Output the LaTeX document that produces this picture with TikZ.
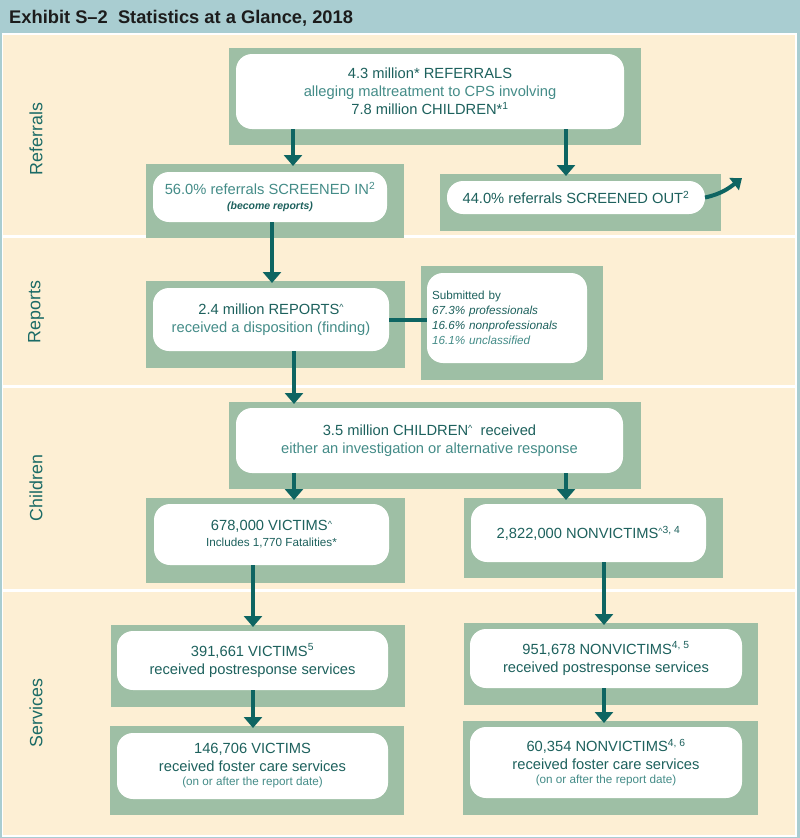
\documentclass[tikz,border=0pt]{standalone}
\usepackage{fontspec}
\setmainfont{Liberation Sans}
\usetikzlibrary{arrows.meta}
\definecolor{hdr}{HTML}{A9CDD1}
\definecolor{cream}{HTML}{FDEFD4}
\definecolor{boxg}{HTML}{9EBFA5}
\definecolor{tdark}{HTML}{1D615D}
\definecolor{tlight}{HTML}{448C88}
\definecolor{tsec}{HTML}{1B6B66}
\definecolor{arrc}{HTML}{0E6562}
\definecolor{ttl}{HTML}{1C1C1C}
\newcommand\mainsz{\fontsize{14.7}{18}\selectfont}
\newcommand\crt{\raisebox{3.5pt}{\fontsize{9}{9}\selectfont\textasciicircum}}
\begin{document}
\begin{tikzpicture}[x=1pt,y=-1pt,
  gbox/.style={fill=boxg, inner sep=0pt, outer sep=0pt},
  wbox/.style={fill=white, rounded corners=16pt, inner sep=0pt, outer sep=0pt, align=center, font=\mainsz, text=tdark},
  arr/.style={draw=arrc, line width=4.5pt, -{Triangle[width=18pt,length=11pt]}, shorten >=-2pt},
  sec/.style={rotate=90, font=\fontsize{17.8}{20}\selectfont, text=tsec},
  divider/.style={white, line width=3pt}]
\useasboundingbox (0,0) rectangle (800,838);
% background
\fill[hdr] (0,0) rectangle (800,838);
\fill[white] (2,33) rectangle (797,836.5);
\fill[cream] (3,35) rectangle (795,834.5);
\draw[divider] (3,236) -- (795,236);
\draw[divider] (3,386) -- (795,386);
\draw[divider] (3,590) -- (795,590);
% title
\node[anchor=base west, inner sep=0pt, font=\bfseries\fontsize{18.3}{20}\selectfont, text=ttl] (title) at (9,23) {Exhibit S–2\ \ Statistics at a Glance, 2018};
% section labels
\node[sec] (lref) at (36,139) {Referrals};
\node[sec] (lrep) at (36,312) {Reports};
\node[sec] (lchi) at (36,488) {Children};
\node[sec] (lser) at (36,713) {Services};
% column coordinates
\coordinate (cA) at (293,0);
\coordinate (cB) at (566,0);
\coordinate (cC) at (272,0);
\coordinate (cD) at (294,0);
\coordinate (cE) at (253,0);
\coordinate (cF) at (604,0);
% referrals
\node[gbox, minimum width=412pt, minimum height=97pt] (refG) at (435,96.5) {};
\node[wbox, minimum width=388pt, minimum height=75pt] (refW) at (430,91.5)
  {{\color{tdark}4.3 million* REFERRALS}\\{\color{tlight}alleging maltreatment to CPS involving}\\{\color{tdark}7.8 million CHILDREN*\textsuperscript{1}}};
\node[gbox, minimum width=258pt, minimum height=74pt] (sinG) at (275,201) {};
\node[wbox, minimum width=234pt, minimum height=50pt] (sinW) at (270,197)
  {{\color{tlight}56.0\% referrals SCREENED IN\textsuperscript{2}}\\[-3pt]{\fontsize{10.5}{12}\selectfont\bfseries\itshape (become reports)}};
\node[gbox, minimum width=281pt, minimum height=57pt] (soutG) at (580.5,202.5) {};
\node[wbox, minimum width=258pt, minimum height=33pt] (soutW) at (576,197.5)
  {44.0\% referrals SCREENED OUT\textsuperscript{2}};
\coordinate (outtip) at (742,178);
% reports
\node[gbox, minimum width=259pt, minimum height=87pt] (repG) at (275.5,324.5) {};
\node[wbox, minimum width=236pt, minimum height=63pt] (repW) at (271,319.5)
  {{\color{tdark}2.4 million REPORTS\crt}\\{\color{tlight}received a disposition (finding)}};
\node[gbox, minimum width=182pt, minimum height=114pt] (subG) at (512,323) {};
\node[wbox, minimum width=160pt, minimum height=90pt, text width=150pt, inner xsep=5pt, align=left, rounded corners=16pt, font=\fontsize{11.7}{15}\selectfont] (subW) at (507,318)
  {{\color{tdark}Submitted by}\\{\color{tdark}\itshape 67.3\% professionals}\\{\color{tdark}\itshape 16.6\% nonprofessionals}\\{\color{tlight}\itshape 16.1\% unclassified}\\[3pt]};
% children
\node[gbox, minimum width=412pt, minimum height=87pt] (chG) at (435,445.5) {};
\node[wbox, minimum width=387pt, minimum height=65pt] (chW) at (429.5,440.5)
  {{\color{tdark}3.5 million CHILDREN\crt\ \ received}\\{\color{tlight}either an investigation or alternative response}};
\node[gbox, minimum width=259pt, minimum height=85pt] (vicG) at (275.5,540.5) {};
\node[wbox, minimum width=235pt, minimum height=61pt] (vicW) at (271.5,534.5)
  {678,000 VICTIMS\crt\\[-2pt]{\fontsize{11.7}{13}\selectfont Includes 1,770 Fatalities*}};
\node[gbox, minimum width=259pt, minimum height=80pt] (nvG) at (593.5,538) {};
\node[wbox, minimum width=235pt, minimum height=58pt] (nvW) at (588.5,533)
  {2,822,000 NONVICTIMS\crt\textsuperscript{3, 4}};
% services
\node[gbox, minimum width=294pt, minimum height=82pt] (vpG) at (258,666) {};
\node[wbox, minimum width=271pt, minimum height=59pt] (vpW) at (252.5,660.5)
  {391,661 VICTIMS\textsuperscript{5}\\received postresponse services};
\node[gbox, minimum width=294pt, minimum height=89pt] (vfG) at (257,770.5) {};
\node[wbox, minimum width=271pt, minimum height=66pt] (vfW) at (252.5,766)
  {146,706 VICTIMS\\received foster care services\\[-4pt]{\fontsize{11.7}{13}\selectfont\color{tlight}(on or after the report date)}};
\node[gbox, minimum width=294pt, minimum height=82pt] (nvpG) at (611,664) {};
\node[wbox, minimum width=272pt, minimum height=59pt] (nvpW) at (606,658.5)
  {951,678 NONVICTIMS\textsuperscript{4, 5}\\received postresponse services};
\node[gbox, minimum width=295pt, minimum height=94pt] (nvfG) at (610.5,768) {};
\node[wbox, minimum width=272pt, minimum height=71pt] (nvfW) at (606,762.5)
  {60,354 NONVICTIMS\textsuperscript{4, 6}\\received foster care services\\[-4pt]{\fontsize{11.7}{13}\selectfont\color{tlight}(on or after the report date)}};
% connectors
\draw[arr] (refW.south -| cA) -- (sinG.north -| cA);
\draw[arr] (refW.south -| cB) -- (soutG.north -| cB);
\draw[arrc, line width=4pt, -{Triangle[width=15pt,length=10pt]}] (soutW.east) to[out=12, in=218] (outtip);
\draw[arr] (sinW.south -| cC) -- (repG.north -| cC);
\draw[arrc, line width=4pt] (repW.east) -- (repW.east -| subW.west);
\draw[arr] (repW.south -| cD) -- (chG.north -| cD);
\draw[arr] (chW.south -| cD) -- (vicG.north -| cD);
\draw[arr] (chW.south -| cB) -- (nvG.north -| cB);
\draw[arr] (vicW.south -| cE) -- (vpG.north -| cE);
\draw[arr] (nvW.south -| cF) -- (nvpG.north -| cF);
\draw[arr] (vpW.south -| cE) -- (vfG.north -| cE);
\draw[arr] (nvpW.south -| cF) -- (nvfG.north -| cF);
\end{tikzpicture}
\end{document}
